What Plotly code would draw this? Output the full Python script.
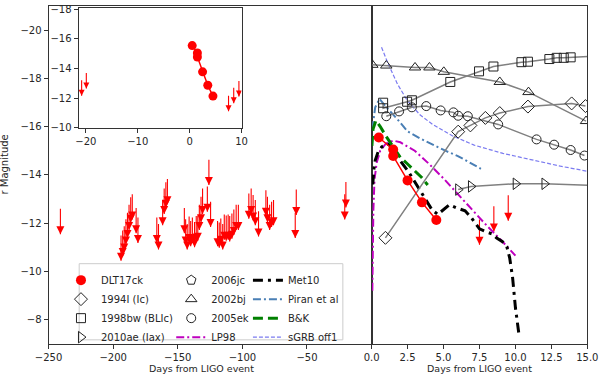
import plotly.graph_objects as go

W, H = 606, 380
FONT = "DejaVu Sans"

# ---------------- data ----------------
# DLT40 upper limits (non-detections): days from LIGO event, limiting abs. magnitude
lim_days = [-240.8, -193.9, -192.6, -191.4, -190.1, -188.9, -187.7, -186.4, -185.2, -182.2, -180.8,
            -166.2, -164.9, -161.7, -160.5, -159.2, -158.0,
            -144.9, -143.9, -142.7, -141.2, -140.0, -138.7, -137.0, -135.7, -134.5, -133.3, -132.0,
            -130.8, -127.1, -125.9, -124.6,
            -119.2, -117.9, -116.7, -115.2, -114.0, -112.5, -111.0, -109.8, -108.1, -106.6, -104.8, -103.1,
            -95.0, -93.2, -91.7, -90.0, -87.5, -81.8, -80.6, -78.9, -77.4, -75.9,
            -59.1, -58.3, -20.8, -19.9,
            7.5, 8.5, 9.5]
lim_mags = [-12.59, -11.49, -11.69, -11.87, -12.16, -12.43, -12.76, -13.07, -13.20, -12.63, -12.23,
            -12.23, -11.96, -12.96, -13.43, -13.69, -13.83,
            -12.63, -12.16, -11.96, -12.27, -12.09, -12.23, -12.05, -12.29, -12.32, -12.76, -13.09,
            -13.43, -13.52, -14.63, -12.89,
            -12.09, -12.03, -12.19, -11.96, -12.36, -12.32, -12.36, -12.29, -12.40, -12.56, -12.76, -12.76,
            -13.23, -13.43, -13.16, -12.96, -12.49, -13.36, -13.09, -12.76, -12.89, -12.96,
            -12.43, -13.39, -13.20, -13.70,
            -12.15, -12.70, -13.15]

dlt_days = [0.5, 1.5, 1.5, 2.5, 3.5, 4.5]
dlt_mags = [-15.55, -15.05, -14.78, -13.77, -12.86, -12.13]

sn1994i_days = [0.96, 6.02, 6.87, 7.91, 8.91, 10.87, 13.91, 14.87]
sn1994i_mags = [-11.39, -15.79, -16.05, -16.36, -16.56, -16.83, -16.96, -16.85]

sn1998bw_days = [0.8, 0.8, 2.47, 2.8, 5.47, 7.47, 8.47, 10.42, 10.87, 12.36, 12.87, 13.36, 13.84, 16.0]
sn1998bw_mags = [-16.99, -16.76, -17.03, -17.09, -17.85, -18.29, -18.49, -18.67, -18.69, -18.80, -18.85,
                 -18.85, -18.87, -18.93]

sn2010ae_days = [6.02, 6.91, 10.02, 12.02, 16.0]
sn2010ae_mags = [-13.39, -13.52, -13.63, -13.63, -13.55]

# 2006jc has no points inside the plotted window (legend entry only)
sn2006jc_days = [None]
sn2006jc_mags = [None]

sn2002bj_days = [0.05, 1.02, 3.02, 4.02, 5.02, 8.91, 10.91, 14.91]
sn2002bj_mags = [-18.56, -18.53, -18.45, -18.45, -18.27, -17.85, -17.43, -16.23]

sn2005ek_days = [1.02, 1.91, 2.8, 3.8, 4.8, 5.69, 6.02, 6.69, 8.8, 11.47, 12.69, 13.84, 14.8]
sn2005ek_mags = [-16.43, -16.63, -16.80, -16.85, -16.67, -16.59, -16.45, -16.43, -16.09, -15.47, -15.25,
                 -15.03, -14.80]

lp98_days = [0.05, 0.08, 0.12, 0.2, 0.35, 0.6, 1.0, 1.5, 2.0, 3.0, 4.0, 5.0, 6.0, 7.0, 8.0, 9.0, 10.0]
lp98_mags = [-9.2, -11.0, -12.5, -13.8, -14.5, -15.0, -15.3, -15.42, -15.35, -15.0, -14.45, -13.85,
             -13.2, -12.55, -11.9, -11.3, -10.65]

met10_days = [0.08, 0.15, 0.25, 0.45, 0.7, 1.1, 1.6, 2.0, 2.6, 3.1, 3.7, 4.2, 4.6, 5.0, 5.4, 5.9, 6.5,
              6.9, 7.5, 8.0, 8.4, 8.7, 9.1, 9.4, 9.6, 9.8, 10.0, 10.25]
met10_mags = [-13.6, -14.2, -14.6, -14.95, -15.16, -15.29, -15.08, -14.58, -14.1, -13.6, -13.05, -12.55,
              -12.36, -12.56, -12.76, -12.63, -12.51, -12.25, -11.76, -11.63, -11.55, -11.38, -11.23,
              -11.03, -10.56, -9.76, -8.5, -7.36]

piran_days = [0.05, 0.25, 0.55, 1.1, 1.8, 2.5, 3.4, 4.3, 5.2, 6.0, 6.9, 7.6]
piran_mags = [-15.9, -16.8, -17.15, -16.75, -16.3, -15.8, -15.5, -15.23, -14.98, -14.78, -14.5, -14.25]

bk_days = [0.02, 0.1, 0.3, 0.6, 1.0, 1.5, 2.0, 2.5, 3.0, 3.5, 3.9]
bk_mags = [-15.2, -15.9, -16.25, -16.0, -15.6, -15.15, -14.72, -14.45, -14.18, -13.88, -13.58]

sgrb_days = [0.69, 1.13, 1.8, 2.47, 3.36, 4.24, 5.58, 7.13, 9.13, 11.36, 13.13, 15.0]
sgrb_mags = [-19.29, -18.63, -17.76, -17.09, -16.49, -16.09, -15.63, -15.23, -14.89, -14.59, -14.36, -14.15]

main_xticks = [-250, -200, -150, -100, -50]
right_xticks = [0, 2.5, 5, 7.5, 10, 12.5, 15]
mag_ticks = [-20, -18, -16, -14, -12, -10, -8]
inset_xticks = [-20, -10, 0, 10]
inset_yticks = [-18, -16, -14, -12, -10]

# ---------------- figure ----------------
ARROW = 1.05
fig = go.Figure()

n = len(lim_days)
for xa, ya, head in [("x", "y", 8), ("x2", "y2", 8), ("x3", "y3", 6)]:
    fig.add_trace(go.Scatter(
        x=lim_days, y=[m + ARROW for m in lim_mags], mode="markers", xaxis=xa, yaxis=ya,
        marker=dict(symbol="arrow-down", size=head, color="red", line=dict(width=0)),
        error_y=dict(type="data", symmetric=False, array=[0] * n, arrayminus=[ARROW] * n,
                     color="red", thickness=1.1, width=0),
        showlegend=False, hoverinfo="skip"))

# models
models = [
    (lp98_days, lp98_mags, "LP98", "#bf00bf", 2, "8px,3px,2px,3px", "legend2", 4),
    (met10_days, met10_mags, "Met10", "black", 3, "10px,5px,3px,5px", "legend3", 1),
    (piran_days, piran_mags, "Piran et al", "#4a7fb5", 2, "8px,3px,2px,3px", "legend3", 2),
    (bk_days, bk_mags, "B&K", "#008000", 3, "10px,5px", "legend3", 3),
    (sgrb_days, sgrb_mags, "sGRB off1", "#7b7bf0", 1.2, "4px,2px", "legend3", 4),
]
for d, m, name, col, w, dash, lg, rank in models:
    fig.add_trace(go.Scatter(x=d, y=m, mode="lines", name=name, xaxis="x2", yaxis="y2",
                             line=dict(color=col, width=w, dash=dash), legend=lg, legendrank=rank))

sne = [
    (sn1994i_days, sn1994i_mags, "1994I (Ic)", "diamond-open", "legend", 2, 10),
    (sn1998bw_days, sn1998bw_mags, "1998bw (BLIc)", "square-open", "legend", 3, 9),
    (sn2010ae_days, sn2010ae_mags, "2010ae (Iax)", "triangle-right-open", "legend", 4, 10),
    (sn2006jc_days, sn2006jc_mags, "2006jc", "pentagon-open", "legend2", 1, 10),
    (sn2002bj_days, sn2002bj_mags, "2002bj", "triangle-up-open", "legend2", 2, 10),
    (sn2005ek_days, sn2005ek_mags, "2005ek", "circle-open", "legend2", 3, 9),
]
for d, m, name, sym, lg, rank, sz in sne:
    fig.add_trace(go.Scatter(x=d, y=m, mode="lines", xaxis="x2", yaxis="y2",
                             line=dict(color="grey", width=1.5), showlegend=False, hoverinfo="skip"))
for d, m, name, sym, lg, rank, sz in sne:
    fig.add_trace(go.Scatter(x=d, y=m, mode="markers", name=name, xaxis="x2", yaxis="y2",
                             marker=dict(symbol=sym, size=sz, color="#222222", line=dict(width=1)),
                             legend=lg, legendrank=rank))

# DLT17ck
for xa, ya, sz, show in [("x2", "y2", 10, True), ("x3", "y3", 9, False)]:
    fig.add_trace(go.Scatter(x=dlt_days, y=dlt_mags, mode="lines", xaxis=xa, yaxis=ya,
                             line=dict(color="red", width=1.5), showlegend=False, hoverinfo="skip"))
    fig.add_trace(go.Scatter(x=dlt_days, y=dlt_mags, mode="markers", name="DLT17ck", xaxis=xa, yaxis=ya,
                             marker=dict(symbol="circle", size=sz, color="red"),
                             showlegend=show, legend="legend", legendrank=1))

ax_common = dict(showgrid=False, zeroline=False, showline=True, linecolor="#333333", linewidth=1,
                 mirror=True, ticks="outside", ticklen=4, tickcolor="#333333", tickwidth=1,
                 tickfont=dict(size=10, color="#262626"))
ydom = [1 - 348 / H, 1 - 2 / H]

leg_common = dict(yanchor="top", xanchor="left", y=1 - 268 / H, bgcolor="rgba(0,0,0,0)",
                  borderwidth=0, font=dict(size=10, color="#262626"), itemwidth=30,
                  tracegroupgap=0, traceorder="normal")

fig.update_layout(
    width=W, height=H, margin=dict(l=0, r=0, t=0, b=0),
    paper_bgcolor="white", plot_bgcolor="white",
    font=dict(family=FONT, size=10, color="#262626"),
    xaxis=dict(domain=[36 / W, 373 / W], range=[-250, 0], tickvals=main_xticks, anchor="y", **ax_common),
    yaxis=dict(domain=ydom, range=[-7, -21], tickvals=mag_ticks, anchor="x", **ax_common),
    xaxis2=dict(domain=[373 / W, 598 / W], range=[0, 15], tickvals=right_xticks, tickformat=".1f",
                anchor="y2", **ax_common),
    yaxis2=dict(domain=ydom, range=[-7, -21], tickvals=mag_ticks, showticklabels=False, anchor="x2",
                **{k: v for k, v in ax_common.items() if k not in ("ticks",)}, ticks=""),
    xaxis3=dict(domain=[67.3 / W, 237.3 / W], range=[-21.4, 10], tickvals=inset_xticks, anchor="y3",
                **ax_common),
    yaxis3=dict(domain=[1 - 126.7 / H, 1 - 4 / H], range=[-9.99, -18.1], tickvals=inset_yticks,
                anchor="x3", **ax_common),
    legend=dict(x=49 / W, **leg_common),
    legend2=dict(x=164 / W, **leg_common),
    legend3=dict(x=244 / W, **leg_common),
    showlegend=True,
    shapes=[dict(type="rect", xref="paper", yref="paper", x0=68 / W, x1=343 / W,
                 y0=1 - 344 / H, y1=1 - 266 / H, line=dict(color="#cccccc", width=1),
                 fillcolor="rgba(255,255,255,0.8)", layer="above")],
    annotations=[
        dict(text="r Magnitude", x=-10 / W, y=1 - 164 / H, xref="paper", yref="paper", showarrow=False,
             textangle=-90, font=dict(size=10, color="#262626"), xanchor="center", yanchor="middle"),
        dict(text="Days from LIGO event", x=196 / W, y=1 - 373 / H, xref="paper", yref="paper",
             showarrow=False, font=dict(size=9.5, color="#262626"), xanchor="center", yanchor="middle"),
        dict(text="Days from LIGO event", x=486 / W, y=1 - 373 / H, xref="paper", yref="paper",
             showarrow=False, font=dict(size=9.5, color="#262626"), xanchor="center", yanchor="middle"),
    ],
)

fig.write_html("out.html")
